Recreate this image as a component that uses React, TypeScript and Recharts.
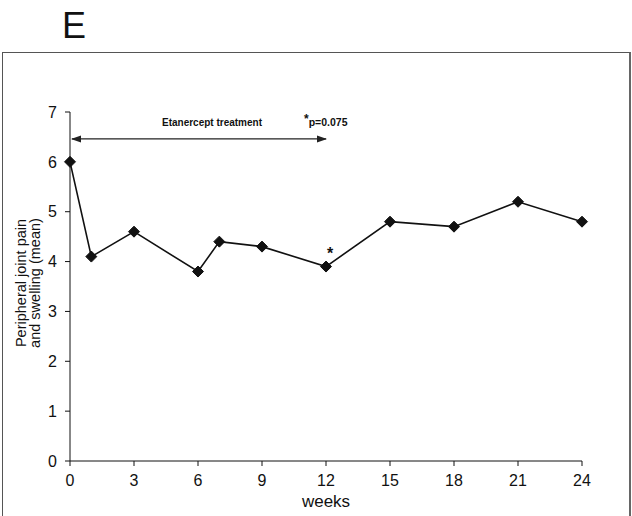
import React from "react";
import { LineChart, Line, XAxis, YAxis, ReferenceLine, ReferenceDot } from "recharts";

const weeks = [0, 1, 3, 6, 7, 9, 12, 15, 18, 21, 24];
const painMean = [6.0, 4.1, 4.6, 3.8, 4.4, 4.3, 3.9, 4.8, 4.7, 5.2, 4.8];
const xTicks = [0, 3, 6, 9, 12, 15, 18, 21, 24];
const yTicks = [0, 1, 2, 3, 4, 5, 6, 7];
const treatmentSpan = [0, 12];
const treatmentLevel = 6.46;

const data = weeks.map((w, i) => ({ week: w, pain: painMean[i] }));

const FONT = "'Liberation Sans', Arial, sans-serif";

const Diamond = (props: any) => {
  const { cx, cy } = props;
  if (cx == null || cy == null) return null;
  const s = 5.5;
  return (
    <polygon
      points={`${cx},${cy - s} ${cx + s},${cy} ${cx},${cy + s} ${cx - s},${cy}`}
      fill="#111"
      stroke="#111"
    />
  );
};

// double-headed arrow with its captions
const TreatmentArrow = (props: any) => {
  const { x1, y1, x2, y2 } = props;
  if (x1 == null) return null;
  const a = 10;
  const h = 3.5;
  return (
    <g>
      <line x1={x1 + 2} y1={y1} x2={x2} y2={y2} stroke="#222" strokeWidth={1.3} />
      <polygon points={`${x1 + 1},${y1} ${x1 + 1 + a},${y1 - h} ${x1 + 1 + a},${y1 + h}`} fill="#222" />
      <polygon points={`${x2 + 1},${y2} ${x2 + 1 - a},${y2 - h} ${x2 + 1 - a},${y2 + h}`} fill="#222" />
      <text
        x={(x1 + x2) / 2 + 14}
        y={y1 - 13}
        textAnchor="middle"
        fontFamily={FONT}
        fontSize={10}
        fontWeight="bold"
        fill="#111"
      >
        Etanercept treatment
      </text>
      <text x={x2 - 22} y={y1 - 13} fontFamily={FONT} fontSize={10.5} fontWeight="bold" fill="#111">
        <tspan fontSize={12} dy={-3}>*</tspan>
        <tspan dy={3}>p=0.075</tspan>
      </text>
    </g>
  );
};

const StarLabel = (props: any) => {
  const { viewBox } = props;
  if (!viewBox) return null;
  return (
    <text
      x={viewBox.x + 4}
      y={viewBox.y - 8}
      textAnchor="middle"
      fontFamily={FONT}
      fontSize={16}
      fontWeight="bold"
      fill="#111"
    >
      *
    </text>
  );
};

const YTitle = (props: any) => {
  const { viewBox } = props;
  if (!viewBox) return null;
  const cy = viewBox.y + viewBox.height / 2 - 3.5;
  return (
    <g fontFamily={FONT} fontSize={14.5} fill="#111">
      <text x={26} y={cy} transform={`rotate(-90 26 ${cy})`} textAnchor="middle">
        Peripheral joint pain
      </text>
      <text x={40} y={cy} transform={`rotate(-90 40 ${cy})`} textAnchor="middle">
        and swelling (mean)
      </text>
    </g>
  );
};

export default function App() {
  return (
    <div style={{ position: "absolute", left: 0, top: 0, width: 632, height: 516, background: "#fff", overflow: "hidden" }}>
      <div
        style={{
          position: "absolute",
          left: 62,
          top: 6,
          fontFamily: FONT,
          fontSize: 36,
          lineHeight: "40px",
          color: "#111",
        }}
      >
        E
      </div>
      <div
        style={{
          position: "absolute",
          left: 2,
          top: 52,
          width: 626,
          height: 480,
          borderTop: "1.5px solid #555",
          borderLeft: "1.5px solid #555",
          borderRight: "2px solid #666",
        }}
      />
      <div style={{ position: "absolute", left: 0, top: 0 }}>
        <LineChart width={632} height={516} data={data} margin={{ top: 112, right: 50, bottom: 15, left: 10 }}>
          <XAxis
            dataKey="week"
            type="number"
            domain={[0, 24]}
            ticks={xTicks}
            height={40}
            tickSize={5}
            tickMargin={9}
            stroke="#111"
            tick={{ fill: "#111", fontSize: 16, fontFamily: FONT }}
            label={{ value: "weeks", position: "insideBottom", offset: -6, fill: "#111", fontSize: 17, fontFamily: FONT }}
          />
          <YAxis
            type="number"
            domain={[0, 7]}
            ticks={yTicks}
            width={60}
            tickSize={5}
            tickMargin={8}
            stroke="#111"
            tick={{ fill: "#111", fontSize: 16, fontFamily: FONT }}
            label={{ content: <YTitle /> }}
          />
          <ReferenceLine
            segment={[
              { x: treatmentSpan[0], y: treatmentLevel },
              { x: treatmentSpan[1], y: treatmentLevel },
            ]}
            shape={<TreatmentArrow />}
            ifOverflow="visible"
          />
          <Line
            dataKey="pain"
            type="linear"
            stroke="#111"
            strokeWidth={1.6}
            dot={<Diamond />}
            activeDot={false}
            isAnimationActive={false}
          />
          <ReferenceDot x={12} y={3.9} r={0} fill="none" stroke="none" label={<StarLabel />} />
        </LineChart>
      </div>
    </div>
  );
}
